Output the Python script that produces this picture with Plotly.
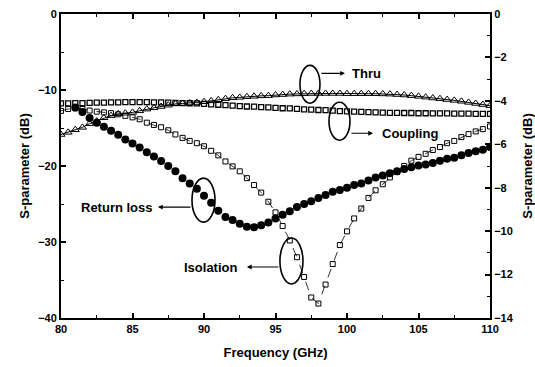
import numpy as np
import plotly.graph_objects as go

# Frequency sweep (GHz), 0.5 GHz steps
freq = np.arange(80.0, 110.01, 0.5)
freq_rl = np.arange(81.0, 110.01, 0.5)

# Return loss (dB), left axis
return_loss = [
    -12.3, -12.9, -13.7, -14.3, -14.85, -15.35, -15.9, -16.5, -17.05, -17.55,
    -18.2, -18.75, -19.35, -20.0, -20.7, -21.6, -22.3, -23.0, -23.9, -24.85,
    -25.9, -26.7, -27.1, -27.6, -28.0, -28.05, -27.8, -27.45, -26.9, -26.4,
    -25.95, -25.4, -25.0, -24.65, -24.2, -23.8, -23.4, -23.15, -22.85, -22.5,
    -22.3, -21.9, -21.5, -21.25, -20.95, -20.7, -20.4, -20.15, -19.95, -19.8,
    -19.6, -19.3, -19.05, -18.9, -18.6, -18.3, -18.05, -17.85, -17.5,
]

# Isolation (dB), left axis
isolation = [
    -12.75, -12.5, -12.4, -12.5, -12.7, -12.85, -12.95, -13.05, -13.2, -13.4,
    -13.6, -13.85, -14.3, -14.6, -14.9, -15.3, -15.85, -16.3, -16.7, -17.0,
    -17.4, -18.0, -18.6, -19.4, -20.05, -20.7, -21.6, -22.5, -23.5, -24.7,
    -26.1, -27.9, -29.8, -32.0, -34.6, -37.3, -38.1, -35.6, -32.9, -30.4,
    -28.6, -26.9, -25.6, -24.2, -23.2, -22.4, -21.5, -20.8, -20.0, -19.3,
    -18.8, -18.4, -17.9, -17.5, -17.0, -16.7, -16.2, -15.8, -15.45, -15.15,
    -14.8,
]

# Thru (dB), right axis
thru = [
    -5.55, -5.45, -5.33, -5.22, -5.05, -4.93, -4.78, -4.68, -4.6, -4.57,
    -4.53, -4.46, -4.38, -4.32, -4.26, -4.2, -4.14, -4.12, -4.1, -4.08,
    -4.04, -4.0, -3.95, -3.9, -3.86, -3.84, -3.81, -3.79, -3.77, -3.76,
    -3.73, -3.71, -3.69, -3.68, -3.67, -3.66, -3.66, -3.66, -3.66, -3.66,
    -3.67, -3.67, -3.67, -3.67, -3.67, -3.68, -3.69, -3.71, -3.73, -3.76,
    -3.79, -3.83, -3.87, -3.9, -3.94, -3.98, -4.02, -4.07, -4.12, -4.17,
    -4.22,
]

# Coupling (dB), right axis
coupling = [
    -4.12, -4.12, -4.1, -4.1, -4.09, -4.08, -4.08, -4.07, -4.07, -4.06,
    -4.06, -4.06, -4.06, -4.07, -4.07, -4.08, -4.09, -4.1, -4.11, -4.12,
    -4.14, -4.16, -4.18, -4.2, -4.22, -4.24, -4.26, -4.27, -4.29, -4.3,
    -4.32, -4.34, -4.35, -4.37, -4.39, -4.4, -4.42, -4.43, -4.45, -4.47,
    -4.48, -4.5, -4.51, -4.52, -4.53, -4.54, -4.55, -4.55, -4.56, -4.56,
    -4.57, -4.57, -4.58, -4.58, -4.58, -4.59, -4.59, -4.59, -4.6, -4.6,
    -4.6,
]

FONT = "Liberation Sans"

fig = go.Figure()

fig.add_trace(go.Scatter(
    x=freq, y=thru, yaxis="y2", mode="lines+markers", name="Thru",
    line=dict(color="black", width=1),
    marker=dict(symbol="triangle-up-open", size=7, color="black",
                line=dict(width=1)),
))
fig.add_trace(go.Scatter(
    x=freq, y=coupling, yaxis="y2", mode="markers", name="Coupling",
    marker=dict(symbol="square-open", size=5, color="black",
                line=dict(width=1.3)),
))
fig.add_trace(go.Scatter(
    x=freq, y=isolation, mode="lines+markers", name="Isolation",
    line=dict(color="black", width=0.8, dash="dash"),
    marker=dict(symbol="square-open", size=5, color="black",
                line=dict(width=1)),
))
fig.add_trace(go.Scatter(
    x=freq_rl, y=return_loss, mode="markers", name="Return loss",
    marker=dict(symbol="circle", size=8, color="black"),
))

# Ellipses marking each curve (left-axis data coordinates)
ellipses = [
    (96.71, 98.11, -6.76, -11.75),    # Thru
    (98.74, 100.21, -11.62, -16.61),  # Coupling
    (89.16, 90.77, -21.6, -27.38),    # Return loss
    (95.31, 96.92, -29.48, -35.52),   # Isolation
]
shapes = [
    dict(type="circle", xref="x", yref="y", x0=a, x1=b, y0=c, y1=d,
         line=dict(color="black", width=1.6))
    for a, b, c, d in ellipses
]

# Arrows from ellipses to labels: (tail_x, head_x, y, label, label_x, anchor)
callouts = [
    (98.11, 99.86, -7.81, "Thru", 100.21, "left"),
    (100.21, 101.82, -15.69, "Coupling", 102.31, "left"),
    (89.16, 86.78, -25.41, "Return loss", 86.57, "right"),
    (95.31, 93.0, -33.29, "Isolation", 92.52, "right"),
]
annotations = []
for tx, hx, y, label, lx, anc in callouts:
    annotations.append(dict(
        x=hx, y=y, ax=tx, ay=y, xref="x", yref="y", axref="x", ayref="y",
        text="", showarrow=True, arrowhead=2, arrowsize=0.8, arrowwidth=1.2,
        arrowcolor="black",
    ))
    annotations.append(dict(
        x=lx, y=y, xref="x", yref="y", text=label, showarrow=False,
        xanchor=anc, yanchor="middle",
        font=dict(family=FONT, size=13, color="black", weight="bold"),
    ))

tickfont = dict(family=FONT, size=11, color="black", weight="bold")
titlefont = dict(family=FONT, size=13, color="black", weight="bold")

fig.update_layout(
    width=535, height=367,
    margin=dict(l=61, r=45, t=14, b=49, autoexpand=False),
    paper_bgcolor="white", plot_bgcolor="white",
    showlegend=False,
    shapes=shapes, annotations=annotations,
    xaxis=dict(
        range=[80, 110], dtick=5, tick0=80, automargin=False,
        showgrid=False, zeroline=False,
        showline=True, linecolor="black", linewidth=2, mirror="ticks",
        ticks="inside", ticklen=5, tickwidth=1.5, tickcolor="black",
        minor=dict(dtick=2.5, ticks="inside", ticklen=3, tickwidth=1,
                   tickcolor="black"),
        tickfont=tickfont,
        title=dict(text="Frequency (GHz)", font=titlefont, standoff=14),
    ),
    yaxis=dict(
        range=[-40, 0], dtick=10, tick0=0, automargin=False,
        showgrid=False, zeroline=False,
        showline=True, linecolor="black", linewidth=2,
        ticks="inside", ticklen=5, tickwidth=1.5, tickcolor="black",
        minor=dict(dtick=5, ticks="inside", ticklen=3, tickwidth=1,
                   tickcolor="black"),
        tickfont=tickfont,
        title=dict(text="S-parameter (dB)", font=titlefont, standoff=6),
    ),
    yaxis2=dict(
        range=[-14, 0], dtick=2, tick0=0, automargin=False,
        overlaying="y", side="right", anchor="x",
        showgrid=False, zeroline=False,
        showline=True, linecolor="black", linewidth=2,
        ticks="inside", ticklen=5, tickwidth=1.5, tickcolor="black",
        minor=dict(dtick=1, ticks="inside", ticklen=3, tickwidth=1,
                   tickcolor="black"),
        tickfont=tickfont,
        title=dict(text="S-parameter (dB)", font=titlefont, standoff=10),
    ),
)

fig.write_html("out.html")
